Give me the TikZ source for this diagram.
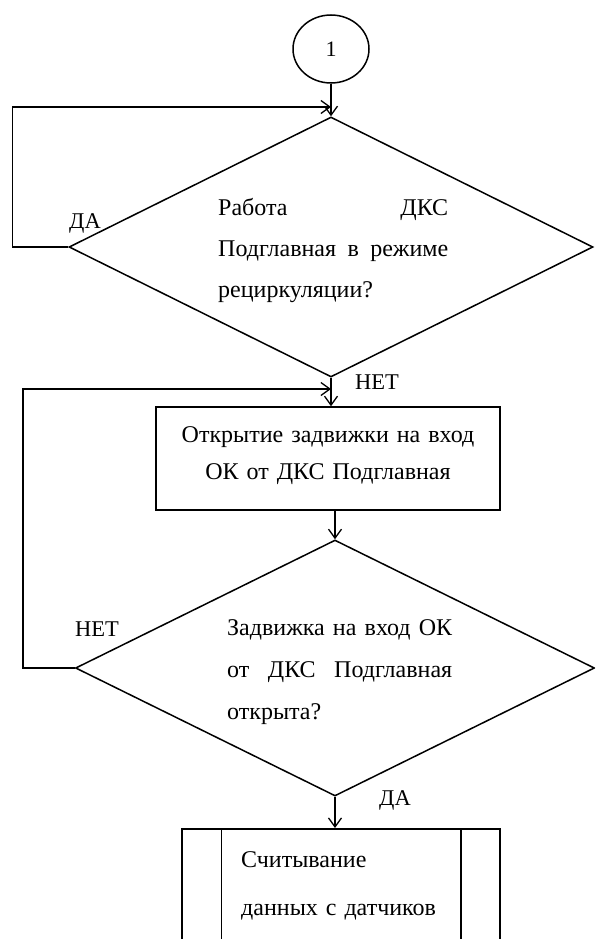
\documentclass[tikz,border=0pt]{standalone}
\usepackage{fontspec}
\setmainfont{Liberation Serif}
\usetikzlibrary{shapes.geometric,arrows.meta,calc}
\begin{document}
\begin{tikzpicture}[x=1pt,y=-1pt,
  conn/.style={line width=1.5pt},
  flow/.style={conn,-{Straight Barb[length=9pt,width=13pt,line width=1.3pt]}},
  decision/.style={diamond,draw,conn,inner sep=0pt},
  procbox/.style={rectangle,draw,conn,inner sep=0pt},
  body/.style={inner sep=0pt},
  answer/.style={font=\fontsize{22.5}{26}\selectfont,inner sep=0pt},
]
\clip (0,0) rectangle (595,939);
\fill[white] (0,0) rectangle (595,939);

% connector circle
\node[ellipse,draw,conn,minimum width=76pt,minimum height=68pt,inner sep=0pt,
      font=\fontsize{22}{26}\selectfont] (start) at (331,49) {1};

% first decision
\node[decision,minimum width=524pt,minimum height=260pt] (d1) at (331,247) {};
\node[body,anchor=base west,text width=230pt,align=left,
      font=\fontsize{24}{41}\selectfont] (t1) at (218,215)
  {\makebox[230pt]{Работа\hfill ДКС}\\
   \makebox[230pt]{Подглавная\hfill в\hfill режиме}\\
   рециркуляции?};

% valve opening step
\node[procbox,minimum width=344pt,minimum height=103pt] (p1) at (328,458.5) {};
\node[body,anchor=base,text width=344pt,align=center,
      font=\fontsize{24}{37}\selectfont] (t3) at (328,442)
  {Открытие задвижки на вход\\ОК от ДКС Подглавная};

% second decision
\node[decision,minimum width=519pt,minimum height=256pt] (d2) at (335,668) {};
\node[body,anchor=base west,text width=225pt,align=left,
      font=\fontsize{24}{42}\selectfont] (t2) at (227,635)
  {\makebox[225pt]{Задвижка\hfill на\hfill вход\hfill ОК}\\
   \makebox[225pt]{от\hfill ДКС\hfill Подглавная}\\
   открыта?};

% predefined process: sensor reading
\node[procbox,anchor=north,minimum width=318pt,minimum height=150pt] (p2) at (341,828) {};
\draw[conn] ([xshift=40pt]p2.north west) -- ([xshift=40pt]p2.south west);
\draw[conn] ([xshift=-40pt]p2.north east) -- ([xshift=-40pt]p2.south east);
\node[body,anchor=base west,text width=210pt,align=left,
      font=\fontsize{24}{48}\selectfont] (t4) at (241,867)
  {Считывание\\данных с датчиков};

% branch labels
\node[answer] (yes1) at (85,223) {ДА};
\node[answer] (no1) at (377,382) {НЕТ};
\node[answer] (no2) at (97,629) {НЕТ};
\node[answer] (yes2) at (395,800) {ДА};

% joints where the loops return
\coordinate (j1) at (331,107);
\coordinate (j2) at (331,389);

% connectors
\draw[flow] (start) -- (d1.north);
\draw[flow] (d1.west) -- ++(-56,0) |- (j1);
\draw[flow] (d1.south) -- (d1.south |- p1.north);
\draw[flow] (d2.west) -- ++(-52,0) |- (j2);
\draw[flow] (p1.south -| d2.north) -- (d2.north);
\draw[flow] (d2.south) -- (d2.south |- p2.north);
\end{tikzpicture}
\end{document}
